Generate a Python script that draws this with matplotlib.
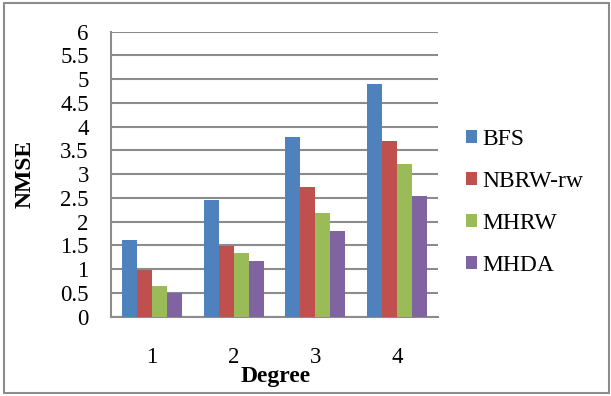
import numpy as np
import matplotlib.pyplot as plt
from matplotlib.patches import Rectangle

degrees = [1, 2, 3, 4]
bfs = [1.61, 2.46, 3.78, 4.90]
nbrw_rw = [0.99, 1.49, 2.73, 3.70]
mhrw = [0.65, 1.34, 2.18, 3.21]
mhda = [0.50, 1.17, 1.80, 2.54]
series_names = ['BFS', 'NBRW-rw', 'MHRW', 'MHDA']
colors = ['#4F81BD', '#C0504D', '#9BBB59', '#8064A2']

plt.rcParams['font.family'] = ['Liberation Serif', 'DejaVu Serif']

fig = plt.figure(figsize=(6.11, 3.96), dpi=100)
ax = fig.add_axes([0.1817, 0.2003, 0.5352, 0.7197])

# outer frame round the whole chart
fig.patches.append(Rectangle((4 / 611, 3 / 396), 605 / 611, 390 / 396,
                             transform=fig.transFigure, fill=False,
                             edgecolor='#8c8c8c', linewidth=1.5))

x = np.arange(len(degrees)) + 1
w = 0.183
for i, (vals, name, c) in enumerate(zip([bfs, nbrw_rw, mhrw, mhda], series_names, colors)):
    ax.bar(x + (i - 1.5) * w, vals, width=w, color=c, label=name, zorder=3)

ax.set_xlim(0.5, 4.5)
ax.set_ylim(0, 6)
ax.set_yticks(np.arange(0, 6.01, 0.5))
ax.set_yticklabels(['%g' % v for v in np.arange(0, 6.01, 0.5)])
ax.set_xticks(x)
ax.set_xticklabels([str(d) for d in degrees])
ax.tick_params(axis='both', length=0, labelsize=16.5)
ax.tick_params(axis='x', pad=22)
ax.tick_params(axis='y', pad=16)

ax.grid(axis='y', color='#8c8c8c', linewidth=1.5, zorder=0)
for s in ['top', 'right']:
    ax.spines[s].set_visible(False)
for s in ['left', 'bottom']:
    ax.spines[s].set_color('#8c8c8c')
    ax.spines[s].set_linewidth(1.5)

ax.set_xlabel('Degree', fontsize=17, fontweight='bold')
ax.xaxis.set_label_coords(0.505, -0.172)
ax.set_ylabel('NMSE', fontsize=17, fontweight='bold')
ax.yaxis.set_label_coords(-0.232, 0.5)

fig.legend(loc='center left', bbox_to_anchor=(0.762, 0.489), frameon=False,
           fontsize=17, handlelength=0.47, handleheight=0.47, handletextpad=0.22,
           labelspacing=0.88, borderpad=0, borderaxespad=0)

fig.savefig('out.png', dpi=100)
